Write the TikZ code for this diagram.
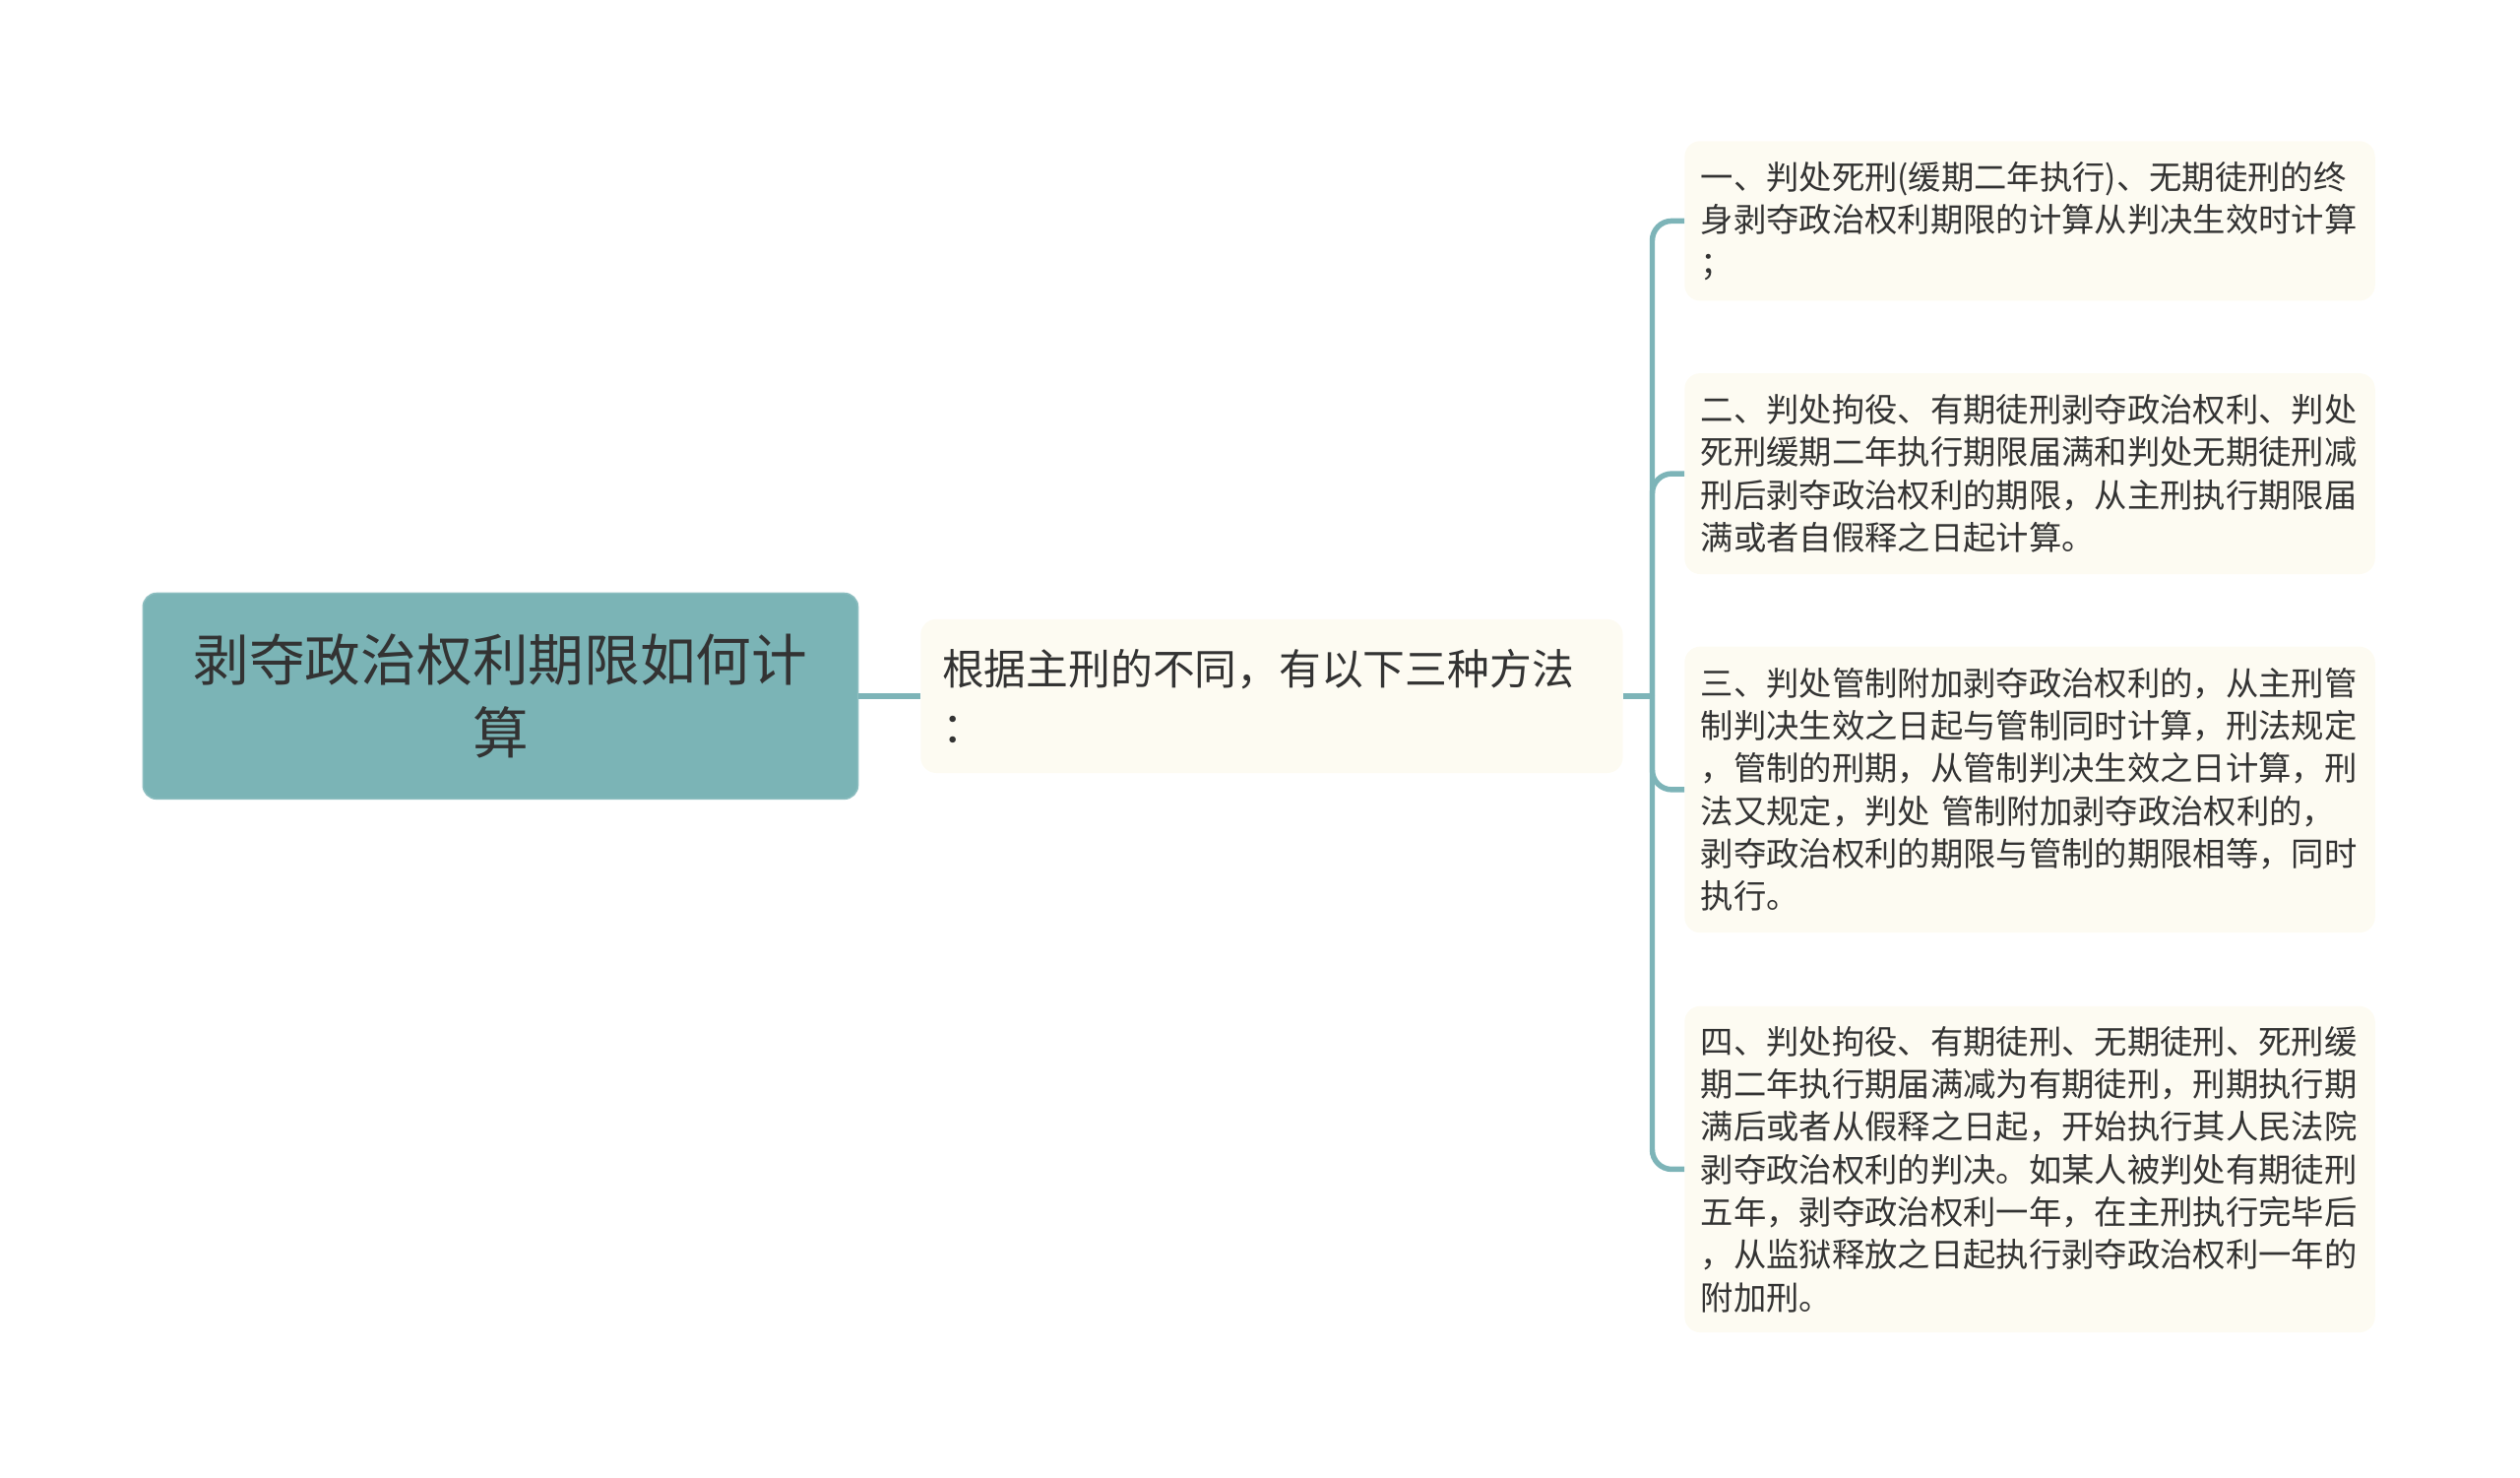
\documentclass[tikz,border=0pt]{standalone}
\usepackage{fontspec}
\newfontfamily\cjk{Noto Sans CJK SC}
\usepackage{tikz}
\definecolor{rootfill}{HTML}{7BB4B6}
\definecolor{rootline}{HTML}{8DBEC0}
\definecolor{linkcol}{HTML}{7DB4B8}
\definecolor{leaffill}{HTML}{FDFBF2}
\definecolor{txt}{HTML}{333333}

\begin{document}
\begin{tikzpicture}[x=1pt, y=-1pt,
		root/.style={rectangle, rounded corners=14pt, draw=rootline, line width=1.5pt, fill=rootfill, text=txt, align=center, font=\cjk\fontsize{57}{74}\selectfont, minimum width=730pt, minimum height=210pt},
		mid/.style={rectangle, rounded corners=16pt, fill=leaffill, text=txt, align=left, font=\cjk\fontsize{43}{59}\selectfont, text width=673pt, inner xsep=22pt, minimum height=157pt},
		leaf/.style={rectangle, rounded corners=16pt, fill=leaffill, text=txt, align=left, font=\cjk\fontsize{33.5}{43.5}\selectfont, text width=672pt, inner xsep=16.5pt},
		link/.style={draw=linkcol, line width=5.5pt}]
		\useasboundingbox (0,0) rectangle (2573,1508.5);
		\node[root] (1) at (511,710.5) {剥夺政治权利期限如何计\\算};
		\node[mid] (2) at (1298.5,710.5) {根据主刑的不同，有以下三种方法\\：};
		\node[leaf, minimum height=163pt] (3) at (2072.5,225.5) {一、判处死刑(缓期二年执行)、无期徒刑的终\\身剥夺政治权利期限的计算从判决生效时计算\\；};
		\node[leaf, minimum height=205pt] (4) at (2072.5,483.5) {二、判处拘役、有期徒刑剥夺政治权利、判处\\死刑缓期二年执行期限届满和判处无期徒刑减\\刑后剥夺政治权利的期限，从主刑执行期限届\\满或者自假释之日起计算。};
		\node[leaf, minimum height=292pt] (5) at (2072.5,806) {三、判处管制附加剥夺政治权利的，从主刑管\\制判决生效之日起与管制同时计算，刑法规定\\，管制的刑期，从管制判决生效之日计算，刑\\法又规定，判处 管制附加剥夺政治权利的，\\剥夺政治权利的期限与管制的期限相等，同时\\执行。};
		\node[leaf, minimum height=333pt] (6) at (2072.5,1193.5) {四、判处拘役、有期徒刑、无期徒刑、死刑缓\\期二年执行期届满减为有期徒刑，刑期执行期\\满后或者从假释之日起，开始执行其人民法院\\剥夺政治权利的判决。如某人被判处有期徒刑\\五年，剥夺政治权利一年，在主刑执行完毕后\\，从监狱释放之日起执行剥夺政治权利一年的\\附加刑。};
		\coordinate (b) at (1687,710.5);
		
		\path (1) edge[link] (2);
		\path (2) edge[link] (b);
		\draw[link, rounded corners=20pt] (b) |- (3);
		\draw[link, rounded corners=20pt] (b) |- (4);
		\draw[link, rounded corners=20pt] (b) |- (5);
		\draw[link, rounded corners=20pt] (b) |- (6);
		
	\end{tikzpicture}
\end{document}
